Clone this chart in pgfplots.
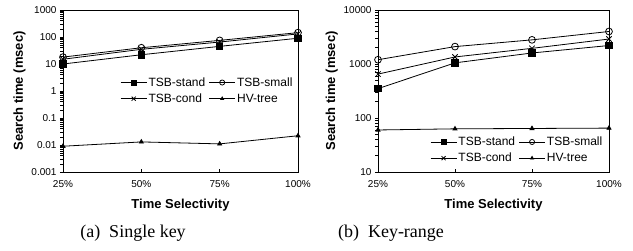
\documentclass[border=0pt]{standalone}
\usepackage{fontspec}
\setmainfont{Liberation Sans}
\newfontfamily\capfont{Liberation Serif}
\usepackage{pgfplots}
\pgfplotsset{compat=1.18}
\tikzset{
  sstand/.style={black, line width=0.8pt, mark=square*, mark size=3.2pt, mark options={solid, fill=black}},
  ssmall/.style={black, line width=0.8pt, mark=o, mark size=3.4pt, mark options={solid, fill=white}},
  scond/.style={black, line width=0.8pt, mark=x, mark size=3.8pt},
  shv/.style={black, line width=0.8pt, mark=triangle*, mark size=2.3pt},
}
\pgfplotsset{
  myax/.style={
    scale only axis,
    xmin=0, xmax=3,
    xtick={0,1,2,3},
    xticklabels={25\%,50\%,75\%,100\%},
    xtick align=inside,
    ytick align=outside,
    xtick pos=bottom, ytick pos=left,
    minor tick num=0,
    major tick length=3pt,
    tick style={black, line width=0.6pt},
    axis line style={black, line width=0.7pt},
    tick label style={font=\fontsize{10}{12}\selectfont},
    xticklabel style={yshift=-5pt},
    /pgf/number format/assume math mode=true,
    xlabel={Time Selectivity},
    ylabel={Search time (msec)},
    xlabel style={font=\fontsize{13}{15}\selectfont\bfseries, yshift=-5pt},
    ylabel style={font=\fontsize{13}{15}\selectfont\bfseries, yshift=-1pt},
    legend columns=2,
    legend style={draw=none, fill=none, font=\fontsize{12}{14}\selectfont,
      /tikz/every even column/.append style={column sep=2pt},
      row sep=6pt, inner sep=0pt, nodes={inner xsep=1.5pt, inner ysep=0pt}},
    legend cell align=left,
    legend image code/.code={
      \draw[mark repeat=2, mark phase=2, every mark/.append style={scale=0.75}]
        plot coordinates {(0pt,0pt) (13pt,0pt) (26pt,0pt)};
    },
  },
}
\begin{document}
\begin{tikzpicture}
\useasboundingbox (0,0) rectangle (633pt,251pt);
\begin{axis}[ymode=log, myax,
  at={(63pt,79pt)}, anchor=south west, width=235pt, height=162pt,
  ymin=0.001, ymax=1000,
  ytick={0.001,0.01,0.1,1,10,100,1000},
  yticklabels={0.001,0.01,0.1,1,10,100,1000},
  legend style={at={(0.243,0.585)}, anchor=north west},
]
\addplot[sstand] coordinates {(0,10) (1,22) (2,45) (3,90)};
\addlegendentry{TSB-stand}
\addplot[ssmall] coordinates {(0,18) (1,40) (2,75) (3,145)};
\addlegendentry{TSB-small}
\addplot[scond] coordinates {(0,15) (1,35) (2,65) (3,130)};
\addlegendentry{TSB-cond}
\addplot[shv] coordinates {(0,0.009) (1,0.013) (2,0.011) (3,0.022)};
\addlegendentry{HV-tree}
\end{axis}
\begin{axis}[ymode=log, myax,
  at={(378pt,79pt)}, anchor=south west, width=231pt, height=162pt,
  ymin=10, ymax=10000,
  ytick={10,100,1000,10000},
  yticklabels={10,100,1000,10000},
  legend style={at={(0.225,0.218)}, anchor=north west},
]
\addplot[sstand] coordinates {(0,350) (1,1050) (2,1600) (3,2200)};
\addlegendentry{TSB-stand}
\addplot[ssmall] coordinates {(0,1200) (1,2100) (2,2800) (3,4000)};
\addlegendentry{TSB-small}
\addplot[scond] coordinates {(0,650) (1,1350) (2,1950) (3,2900)};
\addlegendentry{TSB-cond}
\addplot[shv] coordinates {(0,60) (1,63) (2,64) (3,65)};
\addlegendentry{HV-tree}
\end{axis}
\node[font=\capfont\fontsize{18}{20}\selectfont, anchor=base] at (133pt,13pt) {(a)\enspace Single key};
\node[font=\capfont\fontsize{18}{20}\selectfont, anchor=base] at (391pt,13pt) {(b)\enspace Key-range};
\end{tikzpicture}
\end{document}
